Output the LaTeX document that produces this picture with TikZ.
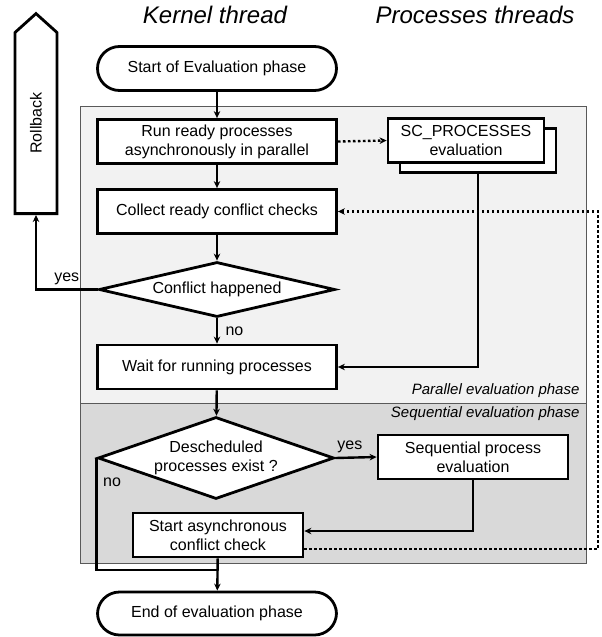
\documentclass[tikz,border=0pt]{standalone}
\usepackage{fontspec}
\setmainfont{Liberation Sans}
\usepackage{tikz}
\usetikzlibrary{arrows.meta}
\tikzset{>=Stealth}
\usetikzlibrary{positioning,shapes.geometric,shapes.arrows,calc}
\definecolor{parbg}{HTML}{F2F2F2}
\definecolor{seqbg}{HTML}{D9D9D9}
\definecolor{panelline}{HTML}{595959}
\tikzset{
    every node/.style={font=\fontsize{16}{19}\selectfont, align=center},
    proc/.style={draw, line width=2.8pt, fill=white, minimum width=239pt, minimum height=44pt, inner sep=0pt},
    stadium/.style={proc, rounded corners=22pt},
    decision/.style={draw, line width=2.8pt, fill=white, diamond, inner sep=0pt, minimum width=236pt},
    rollback/.style={draw, line width=2.8pt, fill=white, single arrow, single arrow head extend=0pt,
        single arrow tip angle=96, inner sep=0pt, minimum width=42pt, minimum height=200pt},
    title/.style={font=\fontsize{24}{28}\selectfont\itshape},
    phase/.style={font=\fontsize{15}{18}\selectfont\itshape, anchor=east},
    panel/.style={draw=panelline, line width=0.9pt},
    flow/.style={->, line width=2.4pt, >={Stealth[length=7pt,width=6.5pt]}},
    signal/.style={flow, dash pattern=on 2.6pt off 2.4pt},
}
\begin{document}
\begin{tikzpicture}[x=1pt, y=-1pt]
    \useasboundingbox (0,0) rectangle (602,637);
    \draw[panel, fill=parbg] (80,106) rectangle (586,403);
    \draw[panel, fill=seqbg] (80,403) rectangle (586,563);
    \node[phase] at (583,391) (partitle) {Parallel evaluation phase};
    \node[phase] at (583,414) (seqtitle) {Sequential evaluation phase};
    \node[title] at (215,15) (kernel) {Kernel thread};
    \node[title] at (475,15) (threads) {Processes threads};

    \node[stadium] at (217,68.5) (start) {Start of Evaluation phase};
    \node[proc] at (217,141.5) (run) {Run ready processes\\asynchronously in parallel};
    \node[proc, minimum width=156pt] at (478,150.5) (scback) {};
    \node[proc, minimum width=156pt] at (466,140.5) (sc) {SC\_PROCESSES\\evaluation};
    \node[proc] at (217,211.5) (collect) {Collect ready conflict checks};
    \node[decision, aspect=4.3, minimum height=55pt] at (217,289.5) (conflict) {Conflict happened};
    \node[proc] at (217,367) (wait) {Wait for running processes};
    \node[decision, aspect=2.9, minimum height=82pt] at (216,458) (desched) {Descheduled\\processes exist ?};
    \node[proc, minimum width=190pt] at (473,457) (seq) {Sequential process\\evaluation};
    \node[proc, minimum width=170pt] at (218,535) (async) {Start asynchronous\\conflict check};
    \node[stadium, minimum height=43pt] at (217,613.5) (end) {End of evaluation phase};
    \node[rollback, rotate=90, anchor=tail] at (36,215) (rb) {Rollback};

    \coordinate (join) at (217,570);
    \coordinate (loop) at (598,549);

    \draw[flow] (start) -- (run);
    \draw[flow] (run) -- (collect);
    \draw[flow] (collect) -- (conflict);
    \draw[flow] (conflict) -- node[right, xshift=4pt] {no} (wait);
    \draw[flow] (conflict.west) -| node[pos=0.25, above] {yes} (rb.tail);
    \draw[flow] (scback.south) |- (wait.east);
    \draw[flow] (wait) -- (desched);
    \draw[flow] (desched.east) -- node[above, pos=0.35] {yes} (seq.west);
    \draw[flow] (seq.south) |- ($(async.east)+(0,-4)$);
    \draw[line width=2.4pt] (desched.west) |- node[pos=0.11, right, xshift=2pt] {no} (join);
    \draw[flow] (async) -- (end);
    \draw[signal] (run.east) -- (sc.west);
    \draw[signal] ($(async.east)+(0,14)$) -- (loop) |- (collect.east);
\end{tikzpicture}
\end{document}
